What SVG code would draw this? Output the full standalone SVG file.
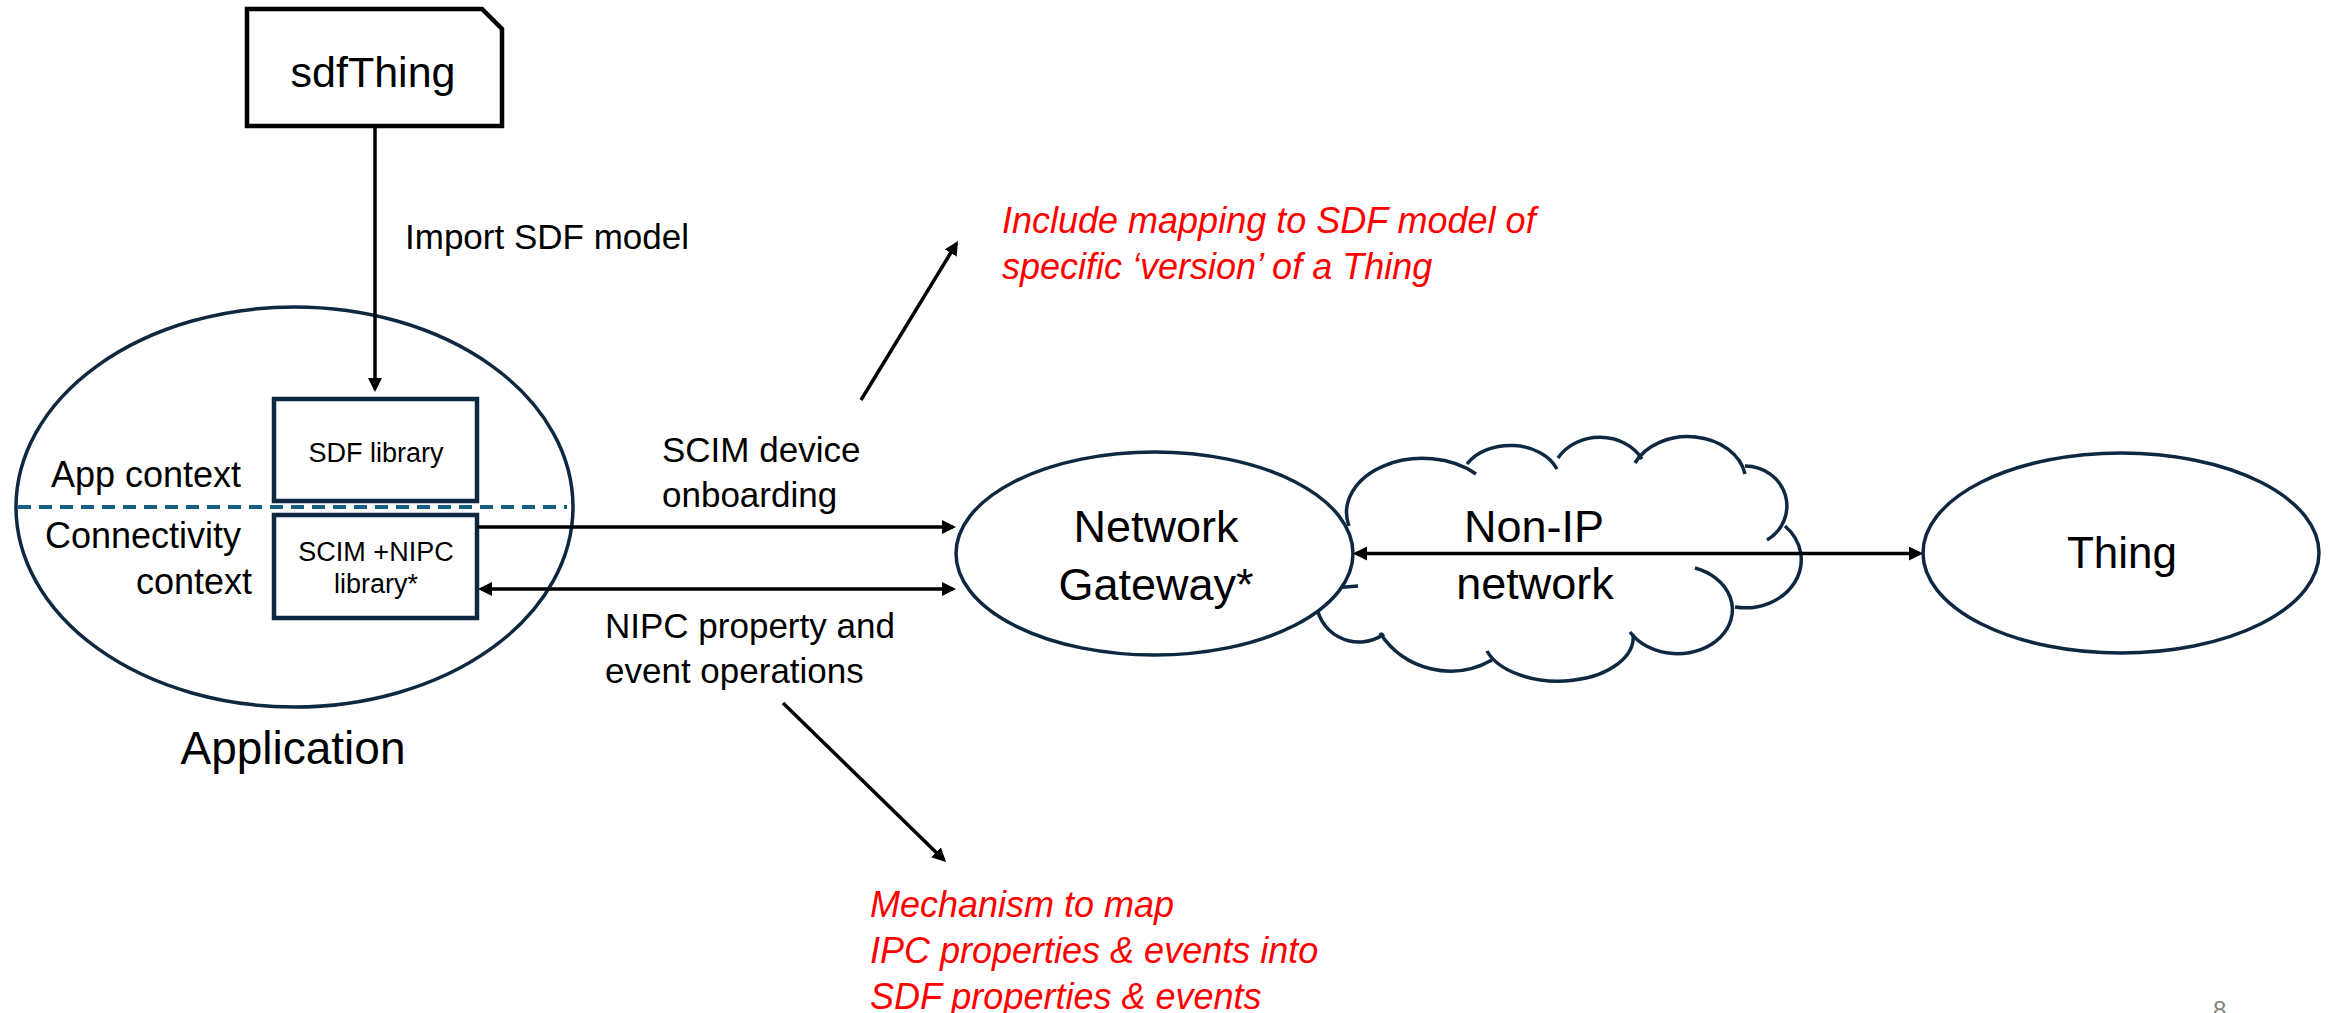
<svg xmlns="http://www.w3.org/2000/svg" width="2331" height="1013" viewBox="0 0 2331 1013">
<defs>
<style>
.t{font-family:"Liberation Sans",Arial,sans-serif;fill:#000}
.red{font-family:"Liberation Sans",Arial,sans-serif;font-style:italic;fill:#ff0000;font-size:36px}
.node{fill:#fff;stroke:#0e2841;stroke-width:3.5}
.box{fill:#fff;stroke:#0e2841;stroke-width:4.5}
.cloud{fill:none;stroke:#0e2841;stroke-width:3.5;stroke-linecap:butt}
.conn{fill:none;stroke:#000;stroke-width:3.5}
</style>
<marker id="ah" viewBox="0 0 14 14" refX="11" refY="7" markerWidth="14" markerHeight="14" markerUnits="userSpaceOnUse" orient="auto-start-reverse">
<path d="M0,0 L14,7 L0,14 Z" fill="#000"/>
</marker>
</defs>
<rect width="2331" height="1013" fill="#fff"/>

<g id="node-sdfThing">
<path d="M247,9 H482 L502,29 V126 H247 Z" fill="#fff" stroke="#000" stroke-width="4.5"/>
<text class="t" x="373" y="87" font-size="43" text-anchor="middle">sdfThing</text>
</g>

<g id="node-application">
<ellipse class="node" cx="294.5" cy="507" rx="278.5" ry="200"/>
<line x1="18" y1="507" x2="567" y2="507" stroke="#156082" stroke-width="4" stroke-dasharray="13 8"/>
<text class="t" x="51" y="487" font-size="36">App context</text>
<text class="t" x="45" y="548" font-size="36">Connectivity</text>
<text class="t" x="252" y="594" font-size="36" text-anchor="end">context</text>
<text class="t" x="293" y="764" font-size="46" text-anchor="middle">Application</text>
</g>

<g id="node-sdf-library">
<rect class="box" x="274" y="399" width="203" height="102"/>
<text class="t" x="376" y="462" font-size="27" text-anchor="middle">SDF library</text>
</g>

<g id="node-scim-nipc-library">
<rect class="box" x="274" y="515" width="203" height="103"/>
<text class="t" x="376" y="561" font-size="27" text-anchor="middle">SCIM +NIPC</text>
<text class="t" x="376" y="593" font-size="27" text-anchor="middle">library*</text>
</g>

<g id="node-non-ip-network">
<path class="cloud" d="M1349,526 A76,54 0 0 1 1476,474"/>
<path class="cloud" d="M1467,464 A50,37 0 0 1 1557,469"/>
<path class="cloud" d="M1558,458 A48,41 0 0 1 1642,459"/>
<path class="cloud" d="M1635,463 A58,45 0 0 1 1745,474"/>
<path class="cloud" d="M1745,466 A42,40 0 0 1 1767,540"/>
<path class="cloud" d="M1785,526 A56,48 0 0 1 1735,607"/>
<path class="cloud" d="M1695,568 A55,44 0 1 1 1630,632"/>
<path class="cloud" d="M1633,634 A75,44 0 0 1 1487,651"/>
<path class="cloud" d="M1492,660 A84,84 0 0 1 1380,633"/>
<path class="cloud" d="M1384,634 A43,43 0 0 1 1316,598"/>
<path class="cloud" d="M1358,586 L1320,589"/>
<text class="t" x="1534" y="542" font-size="45" text-anchor="middle">Non-IP</text>
<text class="t" x="1535" y="599" font-size="45" text-anchor="middle">network</text>
</g>

<g id="node-network-gateway">
<ellipse class="node" cx="1154.5" cy="553.5" rx="198.5" ry="101.5"/>
<text class="t" x="1156" y="542" font-size="45" text-anchor="middle">Network</text>
<text class="t" x="1156" y="600" font-size="45" text-anchor="middle">Gateway*</text>
</g>

<g id="node-thing">
<ellipse class="node" cx="2121" cy="553" rx="198" ry="100"/>
<text class="t" x="2122" y="568" font-size="44" text-anchor="middle">Thing</text>
</g>

<g id="connectors">
<line class="conn" x1="375" y1="126" x2="375" y2="389" marker-end="url(#ah)"/>
<line class="conn" x1="477" y1="527" x2="953" y2="527" marker-end="url(#ah)"/>
<line class="conn" x1="481" y1="589" x2="953" y2="589" marker-start="url(#ah)" marker-end="url(#ah)"/>
<line class="conn" x1="1356" y1="553.5" x2="1920" y2="553.5" marker-start="url(#ah)" marker-end="url(#ah)"/>
<line class="conn" x1="861" y1="400" x2="956.4" y2="243.6" marker-end="url(#ah)"/>
<line class="conn" x1="783" y1="703" x2="943.9" y2="859.9" marker-end="url(#ah)"/>
</g>

<g id="labels">
<text class="t" x="405" y="249" font-size="35">Import SDF model</text>
<text class="t" x="662" y="462" font-size="35">SCIM device</text>
<text class="t" x="662" y="507" font-size="35">onboarding</text>
<text class="t" x="605" y="638" font-size="35">NIPC property and</text>
<text class="t" x="605" y="683" font-size="35">event operations</text>
<text class="red" x="1002" y="233">Include mapping to SDF model of</text>
<text class="red" x="1002" y="279">specific ‘version’ of a Thing</text>
<text class="red" x="870" y="917">Mechanism to map</text>
<text class="red" x="870" y="963">IPC properties &amp; events into</text>
<text class="red" x="870" y="1009">SDF properties &amp; events</text>
<text class="t" x="2213" y="1018" font-size="24" style="fill:#808080">8</text>
</g>
</svg>
